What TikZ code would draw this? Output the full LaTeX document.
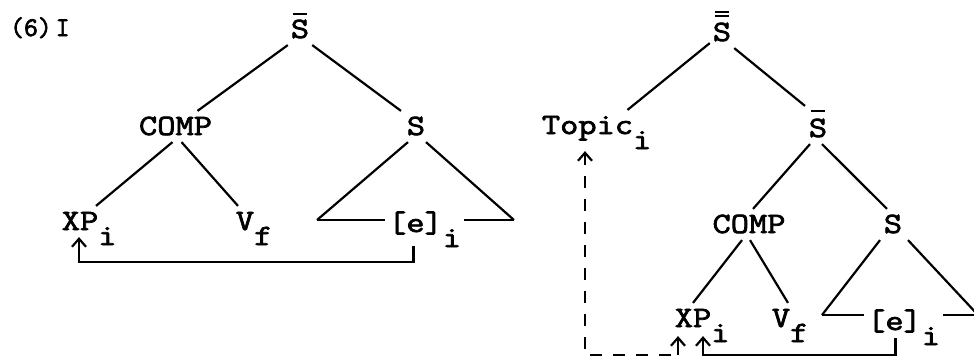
\documentclass[tikz,border=0pt]{standalone}
\usepackage{fontspec}
\setmainfont{Latin Modern Mono}[FakeStretch=1.2,FakeBold=2.5]
\newfontfamily\labfont{Latin Modern Mono}[FakeBold=2.5]
\usetikzlibrary{arrows.meta}
\newcommand{\subx}[1]{\rlap{\raisebox{-15pt}{#1}}}
\newcommand{\barS}[1]{S\llap{\rule[#1]{14pt}{2.2pt}\hspace{2.3pt}}}
\newcommand{\dbarS}{S\llap{\rule[28pt]{14pt}{2.2pt}\hspace{2.3pt}}\llap{\rule[24pt]{14pt}{2.2pt}\hspace{2.3pt}}}
\begin{document}
\begin{tikzpicture}[x=1pt,y=-1pt,line width=2.2pt,
  lbl/.style={font=\fontsize{29.5}{34}\selectfont,text height=17pt,text depth=0pt,inner xsep=2pt,inner ysep=6pt,anchor=base},
  lblw/.style={lbl,anchor=base west},
  arr/.style={-{Straight Barb[length=8pt,width=14pt]}},
  dsh/.style={dash pattern=on 12pt off 11pt}]
\useasboundingbox (0,0) rectangle (974,357);
\clip (0,0) rectangle (974,357);
% label
\node[font=\labfont\fontsize{27}{30}\selectfont,inner sep=0pt,anchor=base west] (lab) at (9,36) {(6)\hspace{4pt}I};
% left tree
\node[lbl] (sbarL) at (300,38) {\barS{23pt}};
\node[lbl] (compL) at (175.5,135) {COMP};
\node[lbl] (sL) at (416,135) {S};
\node[lbl] (xpL) at (80,230) {XP\subx{i}};
\node[lbl] (vL) at (245,230) {V\subx{f}};
\node[lblw] (eL) at (385,232) {[e]\raisebox{-15pt}{i}};
% right tree
\node[lbl] (sbbR) at (722,41) {\dbarS};
\node[lbl] (topic) at (587.5,134) {Topic\subx{i}};
\node[lbl] (sbarR) at (818,137) {\barS{25pt}};
\node[lbl] (compR) at (749,233) {COMP};
\node[lbl] (sR) at (893,233) {S};
\node[lbl] (xpR) at (693,327) {XP\subx{i}};
\node[lbl] (vR) at (781,327) {V\subx{f}};
\node[lblw] (eR) at (864,330) {[e]\raisebox{-15pt}{i}};
% coordinates
\coordinate (cL1) at (317,220);
\coordinate (cR1) at (514,220);
\coordinate (cL2) at (822,315);
\coordinate (cR2) at (978,315);
\coordinate (lowL) at (0,262);
\coordinate (lowR) at (0,355);
\coordinate (eLdn) at ([xshift=-11pt,yshift=-7pt]eL.south);
\coordinate (xpLup) at ([xshift=-1pt]xpL.south);
\coordinate (tpc) at ([xshift=-2.5pt,yshift=-10pt]topic.south);
\coordinate (xp1) at ([xshift=-15pt,yshift=-2pt]xpR.south);
\coordinate (xp2) at ([xshift=10pt,yshift=-2pt]xpR.south);
\coordinate (eRdn) at ([xshift=-8pt,yshift=-1pt]eR.south);
% left edges
\draw (sbarL.south west) -- ([xshift=22pt]compL.north);
\draw (sbarL.south east) -- ([xshift=-15pt]sL.north);
\draw ([xshift=-3pt]compL.south) -- ([xshift=16pt]xpL.north);
\draw ([xshift=6pt]compL.south) -- ([xshift=-7pt]vL.north);
\draw (cL1) -- ([xshift=-8pt]sL.south) ;
\draw ([xshift=10pt]sL.south) -- (cR1);
\draw (cL1) -- (cL1 -| eL.west);
\draw (cR1 -| eL.east) -- (cR1);
\draw[arr] (eLdn) -- (eLdn |- lowL) -- (xpLup |- lowL) -- (xpLup);
% right edges
\draw ([yshift=5pt]sbbR.south west) -- ([xshift=40pt]topic.north);
\draw (sbbR.south east) -- ([xshift=-13pt,yshift=7pt]sbarR.north);
\draw ([xshift=-8pt]sbarR.south) -- ([xshift=4pt]compR.north);
\draw ([xshift=4pt]sbarR.south) -- ([xshift=-6pt]sR.north);
\draw ([xshift=-7pt]compR.south) -- (xpR.north);
\draw ([xshift=1pt]compR.south) -- ([xshift=7pt]vR.north);
\draw (cL2) -- ([xshift=-13pt]sR.south);
\draw ([xshift=15pt]sR.south) -- (cR2);
\draw (cL2) -- (cL2 -| eR.west);
\draw (cR2 -| eR.east) -- (cR2);
% dashed connector Topic <-> XP (solid final stub)
\draw[arr] (xp1 |- lowR) -- (xp1);
\draw[arr,dsh] ([xshift=-7pt]xp1 |- lowR) -- (tpc |- lowR) -- (tpc);
\draw[arr] (eRdn) -- (eRdn |- lowR) -- (xp2 |- lowR) -- (xp2);
\end{tikzpicture}
\end{document}
